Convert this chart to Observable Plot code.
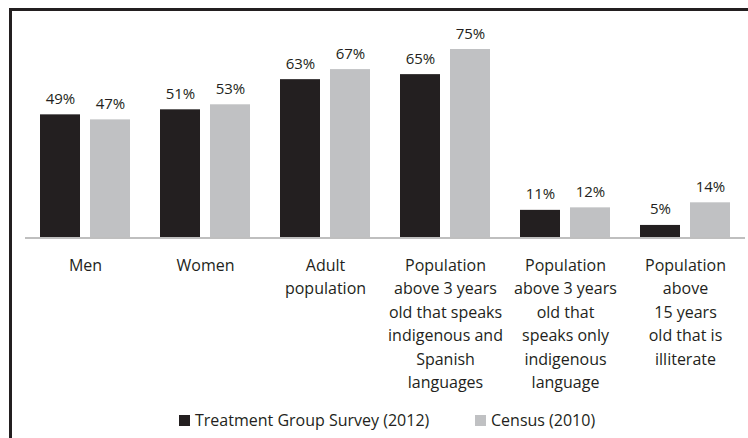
<!DOCTYPE html>
<html>
<head>
<meta charset="utf-8">
<script src="https://cdn.jsdelivr.net/npm/d3@7"></script>
<script src="https://cdn.jsdelivr.net/npm/@observablehq/plot@0.6"></script>
<style>
  html, body { margin: 0; padding: 0; background: #fff; }
  #wrap { position: relative; width: 748px; height: 438px; overflow: hidden; font-family: "Open Sans", sans-serif; color: #231f20; }
  #frame { position: absolute; left: 9px; top: 8px; width: 760px; height: 460px; border-top: 3px solid #231f20; border-left: 3px solid #231f20; box-sizing: border-box; }
  #chart { position: absolute; left: 0; top: 0; }
  .leg { position: absolute; top: 409px; font-size: 16px; white-space: nowrap; display: flex; align-items: center; }
  .sw { display: inline-block; width: 11px; height: 11px; margin-right: 5px; }
</style>
</head>
<body>
<div id="wrap">
  <div id="frame"></div>
  <div id="chart"></div>
  <div class="leg" style="left:179px"><span class="sw" style="background:#231f20"></span>Treatment Group Survey (2012)</div>
  <div class="leg" style="left:475px"><span class="sw" style="background:#c0c1c3"></span>Census (2010)</div>
</div>
<script>
const categories = [
  "Men",
  "Women",
  "Adult\npopulation",
  "Population\nabove 3 years\nold that speaks\nindigenous and\nSpanish\nlanguages",
  "Population\nabove 3 years\nold that\nspeaks only\nindigenous\nlanguage",
  "Population\nabove\n15 years\nold that is\nilliterate"
];
const seriesNames = ["Treatment Group Survey (2012)", "Census (2010)"];
const treatment = [49, 51, 63, 65, 11, 5];
const census = [47, 53, 67, 75, 12, 14];
const colors = ["#231f20", "#c0c1c3"];

const data = [];
categories.forEach((c, i) => {
  data.push({category: c, series: seriesNames[0], value: treatment[i]});
  data.push({category: c, series: seriesNames[1], value: census[i]});
});

const chart = Plot.plot({
  width: 748,
  height: 400,
  marginLeft: 25,
  marginRight: 3,
  marginTop: 49,
  marginBottom: 162.5,
  style: {fontFamily: "'Open Sans', sans-serif", color: "#231f20", background: "transparent"},
  fx: {domain: categories, padding: 0, label: null},
  x: {domain: seriesNames, paddingInner: 0.2, paddingOuter: 0.3, axis: null},
  y: {domain: [0, 75], axis: null},
  color: {domain: seriesNames, range: colors},
  marks: [
    Plot.barY(data, {fx: "category", x: "series", y: "value", fill: "series"}),
    Plot.ruleY([0], {stroke: "#bfbfbf", strokeWidth: 2}),
    Plot.text(data, {fx: "category", x: "series", y: "value", text: d => d.value + "%", lineAnchor: "bottom", dy: -11, fontSize: 15, fill: "#231f20"}),
    Plot.axisFx({anchor: "bottom", tickSize: 0, tickPadding: 16, fontSize: 16, lineHeight: 1.47, label: null, fill: "#231f20"})
  ]
});
document.getElementById("chart").appendChild(chart);
</script>
</body>
</html>
